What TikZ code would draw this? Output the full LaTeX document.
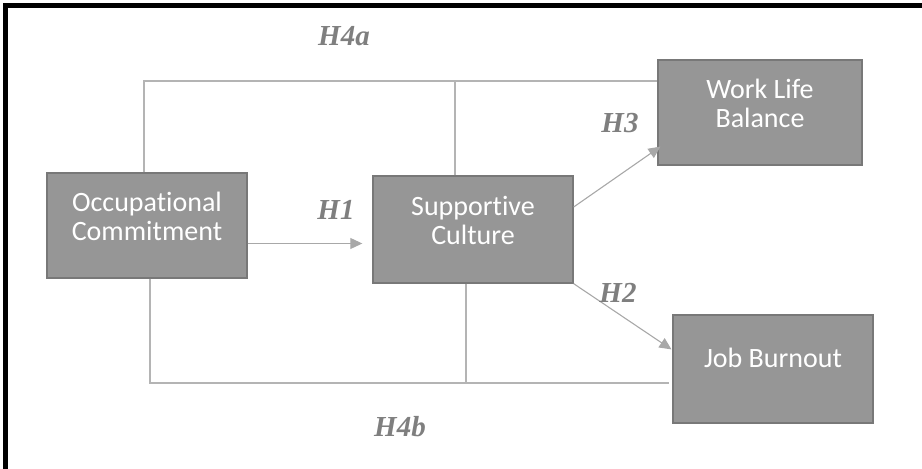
\documentclass[tikz,border=0pt]{standalone}
\usepackage{fontspec}
\setmainfont{Liberation Serif}
\newfontfamily\boxfont[Ligatures={NoCommon,NoDiscretionary}]{Carlito}
\usetikzlibrary{arrows.meta}
\definecolor{boxfill}{HTML}{969696}
\definecolor{boxedge}{HTML}{787878}
\definecolor{connc}{HTML}{B4B4B4}
\definecolor{arrc}{HTML}{A8A8A8}
\definecolor{labc}{HTML}{7F7F7F}
\tikzset{
  box/.style={draw=boxedge, fill=boxfill, line width=0.7pt, inner sep=0pt},
  boxtext/.style={text=white, align=center, font=\boxfont\fontsize{14}{14.5}\selectfont, inner sep=0pt},
  conn/.style={draw=connc, line width=0.55pt},
  arr/.style={draw=arrc, line width=0.55pt, -{Triangle[length=6pt,width=5.5pt]}, arrc},
  hyp/.style={text=labc, font=\fontsize{14.5}{15}\selectfont\bfseries\itshape, inner sep=0pt}
}
\begin{document}
\begin{tikzpicture}[x=0.5pt,y=-0.5pt]
\useasboundingbox (0,0) rectangle (922,469);
% frame
\draw[line width=2.6pt, black] (5.5,469) -- (5.5,5.5) -- (922,5.5);
% boxes
\node[box, minimum width=100pt, minimum height=52.5pt] (oc) at (147,225.5) {};
\node[boxtext] (oct) at ([yshift=4.5pt]oc.center) {Occupational\\Commitment};
\node[box, minimum width=100pt, minimum height=53.5pt] (sc) at (473,229.5) {};
\node[boxtext] (sct) at ([yshift=4.5pt]sc.center) {Supportive\\Culture};
\node[box, minimum width=102pt, minimum height=52.5pt] (wlb) at (760,112.5) {};
\node[boxtext] (wlbt) at ([yshift=4.5pt]wlb.center) {Work Life\\Balance};
\node[box, minimum width=100pt, minimum height=54pt] (jb) at (773,369) {};
\node[boxtext] (jbt) at ([yshift=5.5pt]jb.center) {Job Burnout};
% connector coordinates
\coordinate (t1) at (657,81);
\coordinate (b1) at (669,383);
% top H4a lines
\draw[conn] ([xshift=-1.5pt]oc.north) |- (t1);
\draw[conn] ([xshift=-9pt]sc.north) -- ([xshift=-9pt]sc.north |- t1);
% bottom H4b lines
\draw[conn] ([xshift=1.5pt]oc.south) |- (b1);
\draw[conn] ([xshift=-3.5pt]sc.south) -- ([xshift=-3.5pt]sc.south |- b1);
% arrows
\draw[arr, shorten >=5pt] ([yshift=-9pt]oc.east) -- ([yshift=-9pt]oc.east -| sc.west);
\draw[arr, shorten >=0.5pt] ([yshift=11.25pt]sc.east) -- ([yshift=-16.75pt, xshift=2pt]wlb.west);
\draw[arr, shorten >=0.5pt] (sc.south east) -- ([yshift=9.5pt]jb.west);
% hypothesis labels
\node[hyp] (h4a) at (344,36) {H4a};
\node[hyp] (h1) at (336,210) {H1};
\node[hyp] (h3) at (620,123) {H3};
\node[hyp] (h2) at (618,293) {H2};
\node[hyp] (h4b) at (400,427) {H4b};
\end{tikzpicture}
\end{document}
